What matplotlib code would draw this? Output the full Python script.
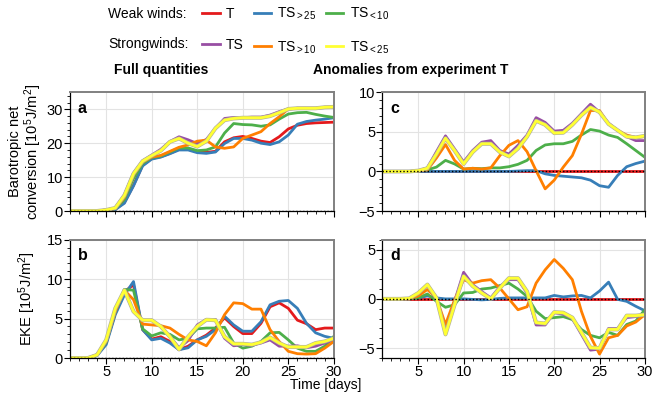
import numpy as np
import matplotlib
matplotlib.use('Agg')
import matplotlib.pyplot as plt
import matplotlib.patheffects as pe
from matplotlib import font_manager
from matplotlib.ticker import MultipleLocator
from matplotlib.lines import Line2D

plt.rcParams['font.family'] = ['Liberation Sans', 'DejaVu Sans']
plt.rcParams['mathtext.fontset'] = 'custom'
plt.rcParams['mathtext.rm'] = 'Liberation Sans'
plt.rcParams['mathtext.it'] = 'Liberation Sans:italic'
plt.rcParams['mathtext.bf'] = 'Liberation Sans:bold'
plt.rcParams['mathtext.default'] = 'regular'

# the legend text in the original is set in a narrow face
names = {f.name for f in font_manager.fontManager.ttflist}
if 'Liberation Sans Narrow' in names:
    leg_family, leg_size = ['Liberation Sans Narrow', 'Liberation Sans'], 12
else:
    leg_family, leg_size = ['Liberation Sans', 'DejaVu Sans'], 10

days = np.arange(1, 31)

# ---------------- data ----------------
# panel a: barotropic net conversion, full quantities
a_T    = [0, 0, 0, 0, 0.2, 0.5, 2.5, 7.6, 13.5, 15.5, 16.0, 17.0, 18.2, 18.2, 17.5, 17.3, 17.6, 20.4, 21.6, 22.0, 21.4, 20.6, 20.2, 21.9, 24.2, 25.3, 25.8, 26.0, 26.1, 26.2]
a_TS25 = [0, 0, 0, 0, 0.2, 0.4, 2.3, 7.4, 13.3, 15.3, 15.9, 16.9, 18.0, 18.0, 17.2, 17.0, 17.4, 19.9, 21.4, 21.4, 20.9, 20.0, 19.6, 20.4, 22.4, 25.6, 26.4, 26.8, 27.1, 27.5]
a_TS10 = [0, 0, 0, 0, 0.3, 0.7, 3.4, 9.6, 14.0, 15.8, 16.2, 17.4, 18.6, 18.6, 17.8, 18.0, 18.9, 23.0, 25.8, 25.5, 25.4, 25.0, 25.4, 27.1, 28.6, 29.0, 29.1, 28.5, 28.0, 27.6]
a_STS  = [0, 0, 0, 0, 0.3, 0.9, 4.8, 11.2, 14.8, 16.5, 18.2, 20.5, 21.9, 21.0, 19.9, 21.1, 24.4, 27.3, 27.6, 27.5, 27.7, 27.7, 28.3, 29.3, 30.1, 30.3, 30.3, 30.3, 30.5, 30.5]
a_ST10 = [0, 0, 0, 0, 0.3, 0.7, 4.0, 10.6, 14.4, 15.9, 16.4, 17.6, 18.8, 19.5, 20.6, 20.9, 18.9, 18.5, 18.9, 21.4, 22.4, 23.4, 25.8, 27.8, 30.1, 30.3, 30.3, 30.3, 30.6, 30.7]
a_ST25 = [0, 0, 0, 0, 0.3, 0.9, 4.6, 11.0, 14.7, 16.3, 17.8, 20.4, 21.4, 20.0, 19.0, 20.6, 24.4, 26.8, 27.3, 27.5, 27.5, 27.5, 28.0, 29.0, 30.1, 30.3, 30.3, 30.3, 30.6, 30.7]

# panel b: EKE, full quantities
b_T    = [0, 0, 0, 0.4, 1.9, 5.7, 8.4, 9.3, 3.6, 2.4, 2.7, 2.1, 1.05, 1.5, 2.3, 2.9, 3.8, 5.1, 4.0, 3.1, 3.1, 4.4, 6.5, 7.0, 6.3, 4.8, 4.35, 3.6, 3.8, 3.8]
b_TS25 = [0, 0, 0, 0.3, 1.7, 5.5, 8.0, 9.7, 3.6, 2.3, 2.5, 1.9, 1.05, 1.3, 2.3, 2.75, 3.6, 5.3, 4.2, 3.4, 3.4, 4.6, 6.75, 7.2, 7.3, 6.3, 4.4, 3.2, 2.75, 2.5]
b_TS10 = [0, 0, 0, 0.4, 2.0, 5.9, 8.7, 8.6, 3.7, 2.8, 3.2, 3.0, 2.3, 2.5, 3.7, 3.8, 3.8, 3.9, 1.9, 1.25, 1.5, 2.1, 3.2, 3.25, 2.3, 1.25, 0.85, 0.85, 1.5, 2.75]
b_STS  = [0, 0, 0, 0.4, 2.2, 6.1, 8.6, 5.9, 4.8, 4.8, 4.0, 2.7, 1.3, 2.2, 4.2, 4.9, 4.9, 2.5, 1.55, 1.7, 1.6, 1.9, 2.3, 1.5, 1.5, 1.55, 1.3, 1.5, 1.9, 2.3]
b_ST10 = [0, 0, 0, 0.4, 2.1, 5.9, 8.6, 7.4, 4.3, 4.2, 4.1, 3.8, 3.0, 2.3, 2.1, 1.55, 3.2, 5.5, 7.0, 6.9, 6.2, 6.2, 3.6, 2.1, 0.85, 0.55, 0.5, 0.55, 1.25, 2.1]
b_ST25 = [0, 0, 0, 0.4, 2.3, 6.3, 8.6, 5.9, 4.8, 4.8, 4.0, 2.7, 1.1, 2.7, 4.0, 4.85, 4.8, 2.7, 1.8, 1.8, 1.7, 2.0, 2.6, 1.9, 1.4, 1.4, 1.4, 1.9, 2.1, 2.5]

# panel c: barotropic net conversion, anomalies from T
c_T    = [0] * 30
c_TS25 = [0, 0, 0, 0, 0, 0, 0, 0, 0, 0, 0, 0, 0, 0, 0, 0.05, 0.1, 0.1, -0.3, -0.5, -0.6, -0.7, -0.8, -1.1, -1.8, -2.0, -0.5, 0.6, 1.0, 1.3]
c_TS10 = [0, 0, 0, 0, 0.05, 0.2, 0.55, 1.4, 0.95, 0.3, 0.4, 0.35, 0.45, 0.45, 0.6, 0.9, 1.4, 2.65, 3.35, 3.5, 3.5, 3.8, 4.6, 5.3, 5.1, 4.6, 4.3, 3.5, 2.65, 1.8]
c_STS  = [0, 0, 0, 0, 0.1, 0.45, 2.5, 4.5, 2.85, 1.2, 2.65, 3.7, 3.9, 2.65, 2.2, 3.3, 4.6, 6.8, 6.2, 5.1, 5.2, 6.1, 7.3, 8.5, 7.5, 6.1, 5.2, 4.4, 3.9, 3.9]
c_ST10 = [0, 0, 0, 0, 0.05, 0.2, 1.7, 3.4, 1.4, 0.3, 0.4, 0.3, 0.45, 2.0, 3.3, 3.9, 2.5, 0.1, -2.2, -1.1, 0.55, 2.0, 4.7, 7.7, 7.7, 6.0, 5.2, 4.6, 4.3, 4.4]
c_ST25 = [0, 0, 0, 0, 0.1, 0.4, 2.2, 4.2, 2.65, 0.95, 2.45, 3.5, 3.5, 2.45, 1.9, 2.9, 4.4, 6.4, 5.9, 4.85, 4.9, 5.9, 7.1, 8.1, 7.5, 6.0, 5.2, 4.4, 4.3, 4.5]

# panel d: EKE, anomalies from T
d_T    = [0] * 30
d_TS25 = [0, 0, 0, 0, 0.1, 0.3, 0.1, 0, 0, 0, -0.05, -0.1, -0.05, 0.05, 0.1, 0.1, 0.1, 0.1, 0.1, 0.35, 0.2, 0.3, 0.35, 0.1, 0.8, 1.7, -0.05, -0.25, -0.75, -1.2]
d_TS10 = [0, 0, 0, 0, 0.1, 0.5, -0.25, -0.85, -0.6, 0.6, 0.65, 1.0, 1.1, 1.35, 1.6, 1.0, 0.25, -1.25, -2.0, -1.9, -1.8, -2.1, -3.1, -3.7, -3.95, -3.4, -3.7, -2.6, -2.25, -1.1]
d_STS  = [0, 0, 0, 0.05, 0.5, 1.35, 0.15, -3.3, -0.25, 2.7, 1.45, 0.75, 0.1, 1.25, 1.95, 1.95, 0.6, -2.65, -2.65, -1.4, -1.55, -2.0, -3.6, -5.2, -5.1, -3.0, -3.0, -1.9, -1.8, -1.7]
d_ST10 = [0, 0, 0, 0, 0.3, 0.95, 0.1, -2.6, -0.1, 1.95, 1.6, 1.85, 1.95, 1.1, 0, -1.1, -0.8, 1.6, 2.95, 4.0, 3.1, 1.95, -1.25, -3.8, -5.6, -3.95, -3.7, -2.75, -2.35, -1.6]
d_ST25 = [0, 0, 0, 0.05, 0.6, 1.45, 0.1, -3.6, -0.6, 2.3, 1.3, 0.6, 0.0, 1.1, 2.1, 2.1, 0.75, -2.4, -2.5, -1.35, -1.4, -1.9, -3.4, -4.95, -5.0, -3.1, -3.1, -1.7, -1.7, -1.6]

colors = ['#e41a1c', '#377eb8', '#4daf4a', '#984ea3', '#ff7f00', '#ffff33']
labels = ['T', 'TS$_{>25}$', 'TS$_{<10}$', 'TS', 'TS$_{>10}$', 'TS$_{<25}$']

panels = {
    'a': [a_T, a_TS25, a_TS10, a_STS, a_ST10, a_ST25],
    'b': [b_T, b_TS25, b_TS10, b_STS, b_ST10, b_ST25],
    'c': [c_T, c_TS25, c_TS10, c_STS, c_ST10, c_ST25],
    'd': [d_T, d_TS25, d_TS10, d_STS, d_ST10, d_ST25],
}

fig = plt.figure(figsize=(6.52, 4.05), dpi=100)
pos = {
    'a': [0.107, 0.479, 0.405, 0.293],
    'b': [0.107, 0.116, 0.405, 0.292],
    'c': [0.586, 0.479, 0.403, 0.293],
    'd': [0.586, 0.116, 0.403, 0.292],
}
ylims = {'a': (0, 35), 'b': (0, 15), 'c': (-5, 10), 'd': (-6, 6)}
ymaj = {'a': 10, 'b': 5, 'c': 5, 'd': 5}
ymin = {'a': 2, 'b': 1, 'c': 1, 'd': 1}

yellow_fx = [pe.Stroke(linewidth=2.9, foreground='#b0b0a0'), pe.Normal()]

for key, series in panels.items():
    ax = fig.add_axes(pos[key])
    for vals, col in zip(series, colors):
        fx = yellow_fx if col == '#ffff33' else None
        ax.plot(days, vals, color=col, lw=2.0, path_effects=fx)
    ax.axhline(0, color='black', ls=(0, (1, 1.5)), lw=1.0, zorder=5)
    ax.set_xlim(1, 30)
    ax.set_ylim(*ylims[key])
    ax.xaxis.set_major_locator(MultipleLocator(5))
    ax.xaxis.set_minor_locator(MultipleLocator(1))
    ax.yaxis.set_major_locator(MultipleLocator(ymaj[key]))
    ax.yaxis.set_minor_locator(MultipleLocator(ymin[key]))
    ax.grid(True, which='major', color='#e3e3e3', lw=0.8)
    ax.set_axisbelow(True)
    ax.tick_params(which='major', direction='out', length=4, labelsize=10.5, pad=1)
    ax.tick_params(which='minor', direction='out', length=2.5)
    for s in ['left', 'bottom']:
        ax.spines[s].set_color('black')
        ax.spines[s].set_linewidth(0.9)
    for s in ['top', 'right']:
        ax.spines[s].set_color('#808080')
        ax.spines[s].set_linewidth(1.4)
    if key in ('a', 'c'):
        ax.tick_params(axis='x', labelbottom=False)
    ax.text(0.03, 0.93, key, transform=ax.transAxes, fontsize=11.5,
            fontweight='bold', va='top', ha='left')
    if key == 'a':
        ax.set_ylabel('Barotropic net\nconversion [10$^5$J/m$^2$]', fontsize=10.5,
                      linespacing=1.0, labelpad=2)
    if key == 'b':
        ax.set_ylabel('EKE [10$^5$J/m$^2$]', fontsize=10.5, labelpad=6)

fig.text(0.5, 0.05, 'Time [days]', ha='center', va='center', fontsize=10)
fig.text(0.247, 0.827, 'Full quantities', ha='center', va='center',
         fontsize=10, fontweight='bold')
fig.text(0.63, 0.827, 'Anomalies from experiment T', ha='center', va='center',
         fontsize=10, fontweight='bold')

# legend: one block of 2 rows x 3 columns, row titles as plain text
fig.text(0.166, 0.966, 'Weak winds:', ha='left', va='center',
         fontsize=leg_size, family=leg_family)
fig.text(0.166, 0.891, 'Strongwinds:', ha='left', va='center',
         fontsize=leg_size, family=leg_family)
order = [0, 3, 1, 4, 2, 5]   # column-wise fill -> row 1 weak, row 2 strong
handles = [Line2D([], [], color=colors[i], lw=2.0) for i in order]
leg = fig.legend(handles, [labels[i] for i in order], ncol=3, frameon=False,
                 loc='upper left', bbox_to_anchor=(0.302, 1.0),
                 prop={'family': leg_family, 'size': leg_size},
                 handlelength=1.25, handletextpad=0.45, columnspacing=0.7,
                 labelspacing=1.25, borderaxespad=0.3, borderpad=0.1)

fig.savefig('out.png', dpi=100)
